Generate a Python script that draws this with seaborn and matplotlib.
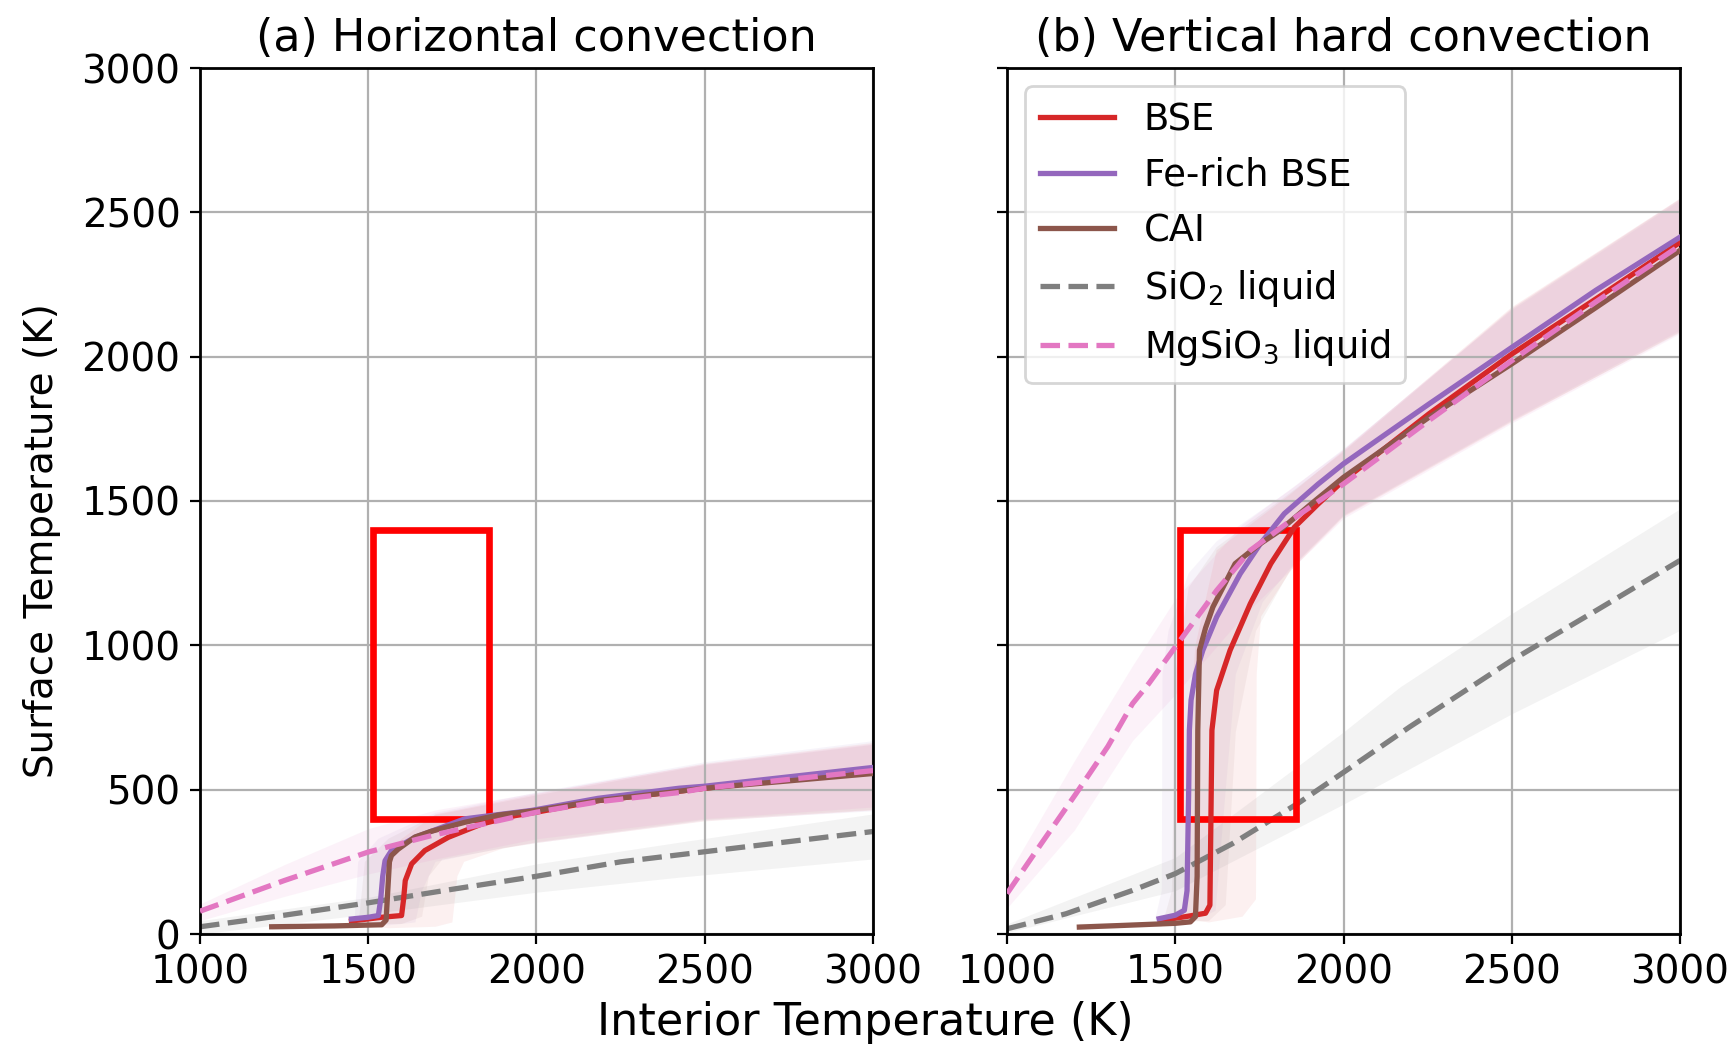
import numpy as np
import pandas as pd
import matplotlib
matplotlib.use("Agg")
import matplotlib.pyplot as plt
from matplotlib.patches import Rectangle
import seaborn as sns

plt.rcParams['font.family'] = ['DejaVu Sans']
plt.rcParams['font.size'] = 14

# ---------------- data: panel (a) Horizontal convection ----------------
a_bse_T = [1450, 1540, 1599, 1605, 1610, 1629, 1668, 1738, 1837, 1936, 2000, 2183, 2500, 3000]
a_bse_S = [45, 58, 64, 120, 185, 243, 289, 335, 381, 410, 422, 462, 505, 568]
a_fe_T = [1450, 1500, 1530, 1537, 1543, 1550, 1569, 1639, 1787, 1985, 2183, 2424, 2500, 3000]
a_fe_S = [52, 58, 64, 120, 200, 254, 289, 335, 399, 428, 470, 505, 512, 577]
a_cai_T = [1213, 1400, 1540, 1553, 1558, 1563, 1569, 1589, 1639, 1688, 1787, 1886, 2000, 2183, 2500, 3000]
a_cai_S = [25, 28, 32, 48, 150, 250, 272, 294, 336, 356, 387, 412, 428, 462, 505, 556]
a_sio2_T = [1000, 1250, 1500, 1750, 2000, 2250, 2500, 2750, 3000]
a_sio2_S = [25, 65, 108, 155, 200, 250, 285, 320, 355]
a_mgsio3_T = [1000, 1250, 1500, 1688, 2000, 2183, 2424, 2500, 3000]
a_mgsio3_S = [79, 185, 284, 341, 422, 458, 490, 505, 566]

# uncertainty envelopes (cold edge, hot edge) for panel (a)
a_bse_cold_T = [1450, 1530, 1540, 1600, 1700, 2000, 2500, 3000]
a_bse_cold_S = [35, 45, 250, 330, 415, 485, 590, 662]
a_bse_hot_T = [1560, 1700, 1750, 1765, 1785, 1900, 2000, 2500, 3000]
a_bse_hot_S = [20, 25, 40, 200, 250, 296, 315, 390, 428]
a_fe_cold_T = [1440, 1460, 1470, 1530, 1700, 2000, 2500, 3000]
a_fe_cold_S = [40, 60, 250, 330, 420, 490, 595, 668]
a_fe_hot_T = [1560, 1640, 1660, 1700, 1900, 2000, 2500, 3000]
a_fe_hot_S = [30, 40, 150, 250, 298, 315, 392, 425]
a_cai_cold_T = [1213, 1470, 1490, 1560, 1700, 2000, 2500, 3000]
a_cai_cold_S = [15, 20, 250, 330, 412, 480, 585, 655]
a_cai_hot_T = [1213, 1600, 1660, 1680, 1720, 2000, 2500, 3000]
a_cai_hot_S = [35, 35, 60, 200, 258, 318, 395, 430]
a_sio2_band_T = [1000, 1500, 2000, 2424, 3000]
a_sio2_up = [46, 127, 243, 318, 416]
a_sio2_lo = [0, 69, 145, 197, 260]
a_mgsio3_band_T = [1000, 1250, 1500, 1700, 2000, 2500, 3000]
a_mgsio3_up = [104, 240, 365, 430, 490, 590, 660]
a_mgsio3_lo = [46, 130, 208, 260, 330, 400, 440]

# ---------------- data: panel (b) Vertical hard convection ----------------
b_bse_T = [1455, 1530, 1590, 1603, 1606, 1609, 1623, 1663, 1723, 1784, 1854, 1925, 2000, 2254, 2500, 2750, 3000]
b_bse_S = [47, 60, 72, 100, 400, 706, 844, 983, 1144, 1283, 1409, 1490, 1571, 1802, 2009, 2200, 2396]
b_fe_T = [1452, 1500, 1527, 1535, 1540, 1542, 1547, 1560, 1582, 1623, 1693, 1753, 1824, 1925, 2000, 2126, 2254, 2500, 2750, 3000]
b_fe_S = [53, 65, 82, 150, 500, 706, 810, 900, 983, 1098, 1248, 1352, 1456, 1559, 1629, 1732, 1836, 2032, 2230, 2414]
b_cai_T = [1215, 1350, 1500, 1545, 1560, 1565, 1567, 1572, 1590, 1612, 1678, 1750, 1804, 1904, 2000, 2254, 2500, 2750, 3000]
b_cai_S = [24, 30, 37, 42, 60, 200, 706, 983, 1060, 1133, 1283, 1350, 1392, 1490, 1582, 1790, 1975, 2170, 2368]
b_sio2_T = [1000, 1175, 1373, 1500, 1670, 1868, 2000, 2196, 2500, 2750, 3000]
b_sio2_S = [18, 70, 151, 209, 313, 455, 560, 717, 948, 1120, 1294]
b_mgsio3_T = [1000, 1100, 1205, 1300, 1373, 1421, 1500, 1623, 1723, 1844, 2000, 2254, 2500, 2750, 3000]
b_mgsio3_S = [140, 310, 486, 650, 798, 867, 994, 1190, 1329, 1433, 1559, 1779, 1986, 2190, 2385]

b_bse_cold_T = [1480, 1530, 1540, 1560, 1623, 1844, 2000, 2500, 3000]
b_bse_cold_S = [60, 100, 700, 1000, 1329, 1525, 1675, 2171, 2547]
b_bse_hot_T = [1600, 1700, 1740, 1742, 1755, 1844, 2000, 2500, 3000]
b_bse_hot_S = [40, 60, 120, 900, 1100, 1260, 1444, 1773, 2085]
b_fe_cold_T = [1440, 1460, 1462, 1480, 1540, 1623, 1844, 2000, 2500, 3000]
b_fe_cold_S = [50, 150, 900, 1050, 1250, 1360, 1540, 1680, 2160, 2540]
b_fe_hot_T = [1560, 1620, 1650, 1680, 1760, 1844, 2000, 2500, 3000]
b_fe_hot_S = [50, 80, 500, 900, 1150, 1270, 1450, 1780, 2090]
b_cai_cold_T = [1215, 1460, 1490, 1500, 1540, 1623, 1844, 2000, 2500, 3000]
b_cai_cold_S = [15, 25, 150, 900, 1200, 1340, 1530, 1670, 2165, 2545]
b_cai_hot_T = [1215, 1600, 1650, 1680, 1740, 1844, 2000, 2500, 3000]
b_cai_hot_S = [35, 45, 100, 700, 1050, 1265, 1447, 1776, 2082]
b_sio2_band_T = [1000, 1500, 2000, 2168, 2500, 3000]
b_sio2_up = [35, 265, 700, 856, 1110, 1473]
b_sio2_lo = [5, 150, 450, 555, 763, 1052]
b_mgsio3_band_T = [1000, 1200, 1373, 1500, 1700, 2000, 2500, 3000]
b_mgsio3_up = [200, 600, 930, 1160, 1420, 1680, 2170, 2550]
b_mgsio3_lo = [90, 360, 670, 830, 1100, 1440, 1770, 2080]

box_T = [1515, 1860]
box_S = [400, 1400]

labels = ["BSE", "Fe-rich BSE", "CAI", r"SiO$_2$ liquid", r"MgSiO$_3$ liquid"]
colors = ["#d62728", "#9467bd", "#8c564b", "#7f7f7f", "#e377c2"]
titles = ["(a) Horizontal convection", "(b) Vertical hard convection"]

panels = [
    dict(lines=[(a_bse_T, a_bse_S), (a_fe_T, a_fe_S), (a_cai_T, a_cai_S), (a_sio2_T, a_sio2_S), (a_mgsio3_T, a_mgsio3_S)],
         envs=[(a_bse_cold_T, a_bse_cold_S, a_bse_hot_T, a_bse_hot_S),
               (a_fe_cold_T, a_fe_cold_S, a_fe_hot_T, a_fe_hot_S),
               (a_cai_cold_T, a_cai_cold_S, a_cai_hot_T, a_cai_hot_S)],
         bands=[(a_sio2_band_T, a_sio2_lo, a_sio2_up), (a_mgsio3_band_T, a_mgsio3_lo, a_mgsio3_up)]),
    dict(lines=[(b_bse_T, b_bse_S), (b_fe_T, b_fe_S), (b_cai_T, b_cai_S), (b_sio2_T, b_sio2_S), (b_mgsio3_T, b_mgsio3_S)],
         envs=[(b_bse_cold_T, b_bse_cold_S, b_bse_hot_T, b_bse_hot_S),
               (b_fe_cold_T, b_fe_cold_S, b_fe_hot_T, b_fe_hot_S),
               (b_cai_cold_T, b_cai_cold_S, b_cai_hot_T, b_cai_hot_S)],
         bands=[(b_sio2_band_T, b_sio2_lo, b_sio2_up), (b_mgsio3_band_T, b_mgsio3_lo, b_mgsio3_up)]),
]

fig = plt.figure(figsize=(8.655, 5.22), dpi=200)
W, H = 1731, 1044
axA = fig.add_axes([200 / W, 1 - 934 / H, 673 / W, 866 / H])
axB = fig.add_axes([1007 / W, 1 - 934 / H, 673 / W, 866 / H], sharey=axA)
axes = [axA, axB]

for ax, p, title in zip(axes, panels, titles):
    # envelopes of the three compositions
    for (cT, cS, hT, hS), col in zip(p["envs"], colors[:3]):
        ax.fill(np.r_[cT, hT[::-1]], np.r_[cS, hS[::-1]], color=col, alpha=0.065, lw=0, zorder=1)
    # bands of the reference liquids
    for (bT, lo, up), col in zip(p["bands"], colors[3:]):
        ax.fill_between(bT, lo, up, color=col, alpha=0.09, lw=0, zorder=1)

    handles = []
    zorders = [3, 3.1, 3.2, 2, 3.5]
    styles = ["-", "-", "-", "--", "--"]
    for (T, S), col, lab, ls, z in zip(p["lines"], colors, labels, styles, zorders):
        df = pd.DataFrame({"T": T, "S": S})
        sns.lineplot(data=df, x="T", y="S", ax=ax, color=col, linestyle=ls, linewidth=1.9,
                     sort=False, estimator=None, legend=False, zorder=z, label=lab)
        handles.append(ax.get_lines()[-1])

    ax.add_patch(Rectangle((box_T[0], box_S[0]), box_T[1] - box_T[0], box_S[1] - box_S[0],
                           fill=False, edgecolor="#ff0000", linewidth=2.4, zorder=2.5))

    ax.set_xlim(1000, 3000)
    ax.set_ylim(0, 3000)
    ax.set_xticks([1000, 1500, 2000, 2500, 3000])
    ax.set_yticks([0, 500, 1000, 1500, 2000, 2500, 3000])
    ax.grid(True, color="#b0b0b0", linewidth=0.8)
    ax.set_xlabel("")
    ax.set_ylabel("")
    ax.set_title(title, fontsize=16)
    ax.tick_params(labelsize=14)
    for sp in ax.spines.values():
        sp.set_linewidth(1.0)

plt.setp(axB.get_yticklabels(), visible=False)
axB.legend(handles=handles, labels=labels, loc="upper left", fontsize=13.3)

fig.text(0.5, 1 - 1022 / H, "Interior Temperature (K)", ha="center", va="center", fontsize=16)
fig.text(42 / W, 1 - 541 / H, "Surface Temperature (K)", ha="center", va="center",
         rotation=90, fontsize=14)

fig.savefig("out.png", dpi=200)
